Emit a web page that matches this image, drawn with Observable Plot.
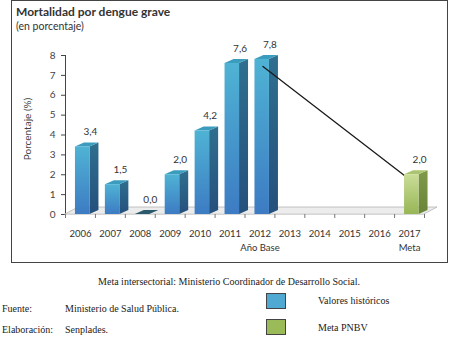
<!DOCTYPE html>
<html>
<head>
<meta charset="utf-8">
<script src="https://cdn.jsdelivr.net/npm/d3@7"></script>
<script src="https://cdn.jsdelivr.net/npm/@observablehq/plot@0.6"></script>
<style>
  body { margin: 0; background: #fff; }
  #page { position: relative; width: 452px; height: 340px; overflow: hidden; font-family: Lato, "Open Sans", sans-serif; color: #333; }
  #box { position: absolute; left: 11px; top: 0px; width: 437px; height: 263px; border: 1.5px solid #444; box-sizing: border-box; }
  .t { position: absolute; white-space: nowrap; }
  .serif { font-family: "Liberation Serif", "DejaVu Serif", serif; font-size: 10px; color: #222; }
  #chart { position: absolute; left: 0; top: 40px; }
  .sw { position: absolute; width: 18px; height: 14px; border: 1px solid #444; }
</style>
</head>
<body>
<div id="page">
  <div id="box"></div>
  <div class="t" style="left:16px; top:4px; font-weight:bold; font-size:12px;">Mortalidad por dengue grave</div>
  <div class="t" style="left:16px; top:20px; font-size:10.5px;">(en porcentaje)</div>
  <div id="chart"></div>
  <div class="t serif" style="left:0; width:458px; text-align:center; top:276px;">Meta intersectorial: Ministerio Coordinador de Desarrollo Social.</div>
  <div class="t serif" style="left:2px; top:303px;">Fuente:</div>
  <div class="t serif" style="left:65px; top:303px;">Ministerio de Salud Pública.</div>
  <div class="t serif" style="left:2px; top:324px;">Elaboración:</div>
  <div class="t serif" style="left:65px; top:324px;">Senplades.</div>
  <div class="sw" style="left:266px; top:293px; background:#4fa9d3;"></div>
  <div class="t serif" style="left:318px; top:295px;">Valores históricos</div>
  <div class="sw" style="left:266px; top:319px; background:#9bbb59;"></div>
  <div class="t serif" style="left:318px; top:322px;">Meta PNBV</div>
</div>
<script>
// ---- data ----
const years = [2006, 2007, 2008, 2009, 2010, 2011, 2012, 2013, 2014, 2015, 2016, 2017];
const histYears = [2006, 2007, 2008, 2009, 2010, 2011, 2012];
const histValues = [3.4, 1.5, 0.0, 2.0, 4.2, 7.6, 7.8];
const metaYears = [2017];
const metaValues = [2.0];
const yTicks = [0, 1, 2, 3, 4, 5, 6, 7, 8];
const subLabels = [{year: 2012, label: "Año Base"}, {year: 2017, label: "Meta"}];

// ---- geometry helpers (pixels -> data units) ----
const W = 452, H = 225, mL = 65, mR = 28, mT = 15, mB = 51;
const pxX = (W - mL - mR) / 12;   // pixels per year
const pxY = (H - mT - mB) / 8;    // pixels per unit
const fx = (p) => p / pxX, fy = (p) => p / pxY;
const fl = fx(-5), fr = fx(9.5);   // front face extents around year
const dX = fx(9), dY = fy(4);      // bar depth

const hist = histYears.map((y, i) => ({year: y, v: histValues[i], kind: "h"}));
const meta = metaYears.map((y, i) => ({year: y, v: metaValues[i], kind: "m"}));

function tops(d) {
  return d.flatMap(b => [
    {k: b.year, y: b.v, x1: b.year + fl, x2: b.year + fr, v: b.v},
    {k: b.year, y: b.v + dY, x1: b.year + fl + dX, x2: b.year + fr + dX, v: b.v}
  ]);
}
function sides(d) {
  return d.flatMap(b => [
    {k: b.year, x: b.year + fr, y1: 0, y2: b.v},
    {k: b.year, x: b.year + fr + dX, y1: dY, y2: b.v + dY}
  ]);
}
const floor = [
  {y: 0, x1: 2005.5, x2: 2017.5},
  {y: fy(7), x1: 2005.5 + fx(13), x2: 2017.5 + fx(13)}
];
const boundaries = d3.range(2005.5, 2018, 1);
const fmt = v => v.toFixed(1).replace(".", ",");

const trend = [{year: 2012, v: 7.8}, {year: 2017, v: 2.0}];

function barMarks(d, front, side, top, topZero) {
  return [
    Plot.areaY(sides(d), {x: "x", y1: "y1", y2: "y2", z: "k", fill: side, curve: "linear"}),
    Plot.areaX(tops(d), {y: "y", x1: "x1", x2: "x2", z: "k", fill: r => r.v === 0 ? topZero : top, curve: "linear"}),
    Plot.rectY(d, {x1: b => b.year + fl, x2: b => b.year + fr, y1: 0, y2: "v", fill: front})
  ];
}

const chart = Plot.plot({
  width: W, height: H,
  marginLeft: mL, marginRight: mR, marginTop: mT, marginBottom: mB,
  style: {fontFamily: "Lato, 'Open Sans', sans-serif", fontSize: "10px", color: "#444", background: "transparent", overflow: "visible"},
  x: {domain: [2005.5, 2017.5], axis: null},
  y: {domain: [0, 8], ticks: yTicks, tickSize: 4, tickPadding: 6, line: true, label: null, tickFormat: d => d},
  marks: [
    Plot.areaX(floor, {y: "y", x1: "x1", x2: "x2", fill: "#ececec", stroke: "#b5b5b5", strokeWidth: 0.8, curve: "linear"}),
    Plot.ruleX(boundaries, {x: d => d, y1: 0, y2: fy(-4), stroke: "#777"}),
    ...barMarks(hist, "url(#gBlue)", "url(#gBlueSide)", "#3c9cbd", "#2a5a6c"),
    Plot.line(trend, {x: "year", y: "v", dx: 3, dy: 7, stroke: "#1a1a1a", strokeWidth: 1.3}),
    ...barMarks(meta, "url(#gGreen)", "url(#gGreenSide)", "#aac46f", "#aac46f"),
    Plot.text([...hist, ...meta], {x: "year", y: "v", text: b => fmt(b.v), dx: 10, dy: -15, fill: "#333", fontSize: 10}),
    Plot.text(years, {x: d => d, y: 0, dy: 19, text: d => String(d), fill: "#333", fontSize: 9.5}),
    Plot.text(subLabels, {x: "year", y: 0, dy: 33, text: "label", fill: "#333", fontSize: 9.5}),
    Plot.text(["Porcentaje (%)"], {x: 2005.5, y: 4, dx: -38, dy: -6, rotate: -90, text: d => d, fill: "#444", fontSize: 10})
  ]
});

chart.insertAdjacentHTML("afterbegin", `
<defs>
  <linearGradient id="gBlue" x1="0" y1="0" x2="0" y2="1">
    <stop offset="0" stop-color="#4fb3d4"/><stop offset="1" stop-color="#3d7bc3"/>
  </linearGradient>
  <linearGradient id="gBlueSide" x1="0" y1="0" x2="0" y2="1">
    <stop offset="0" stop-color="#2f6f8f"/><stop offset="1" stop-color="#25507c"/>
  </linearGradient>
  <linearGradient id="gGreen" x1="0" y1="0" x2="0" y2="1">
    <stop offset="0" stop-color="#cadd97"/><stop offset="1" stop-color="#97b656"/>
  </linearGradient>
  <linearGradient id="gGreenSide" x1="0" y1="0" x2="0" y2="1">
    <stop offset="0" stop-color="#7e9a47"/><stop offset="1" stop-color="#6a843a"/>
  </linearGradient>
</defs>`);

document.getElementById("chart").appendChild(chart);
</script>
</body>
</html>
